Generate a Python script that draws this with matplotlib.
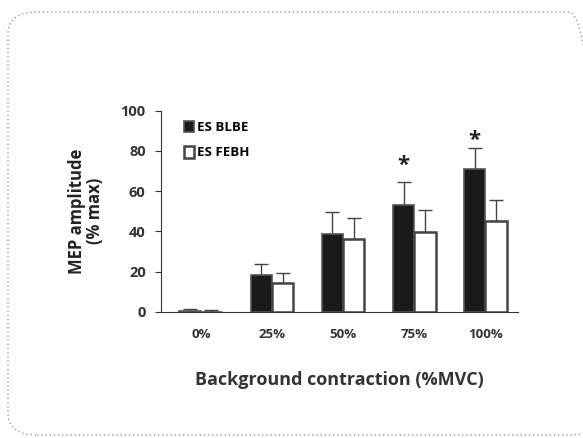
import numpy as np
import matplotlib
matplotlib.use('Agg')
import matplotlib.pyplot as plt
from matplotlib.patches import FancyBboxPatch

categories = ['0%', '25%', '50%', '75%', '100%']
blbe_mean = [0.5, 18.3, 38.5, 53.3, 71.2]
blbe_err = [1.0, 5.2, 11.2, 11.2, 10.0]
febh_mean = [0.0, 14.5, 36.3, 39.7, 45.3]
febh_err = [0.6, 4.8, 10.2, 11.1, 10.5]
star_groups = [3, 4]
star_y = [73, 85]

plt.rcParams['font.family'] = ['Open Sans', 'DejaVu Sans']
plt.rcParams['font.weight'] = 'bold'

fig = plt.figure(figsize=(5.83, 4.38), dpi=100)
fig.patch.set_facecolor('white')

# dotted rounded frame around the figure
frame = FancyBboxPatch((8 / 583, 3 / 438), 590 / 583, 423 / 438,
                       boxstyle='round,pad=0,rounding_size=0.05',
                       transform=fig.transFigure, fill=False,
                       edgecolor='#999999', linestyle=(0, (1, 2)), linewidth=1)
fig.patches.append(frame)

ax = fig.add_axes([161 / 583, 1 - 311.7 / 438, 357 / 583, 201 / 438])
x = np.arange(len(categories))
w = 0.3

ax.bar(x - w / 2, blbe_mean, w, color='#1a1a1a', edgecolor='#555555',
       linewidth=1.2, label='ES BLBE', zorder=2)
ax.bar(x + w / 2, febh_mean, w, color='white', edgecolor='#444444',
       linewidth=1.8, label='ES FEBH', zorder=2)
ax.errorbar(x - w / 2, blbe_mean, yerr=[np.zeros(5), blbe_err], fmt='none',
            ecolor='#444444', elinewidth=1, capsize=5, capthick=1, zorder=1)
ax.errorbar(x + w / 2, febh_mean, yerr=[np.zeros(5), febh_err], fmt='none',
            ecolor='#444444', elinewidth=1, capsize=5, capthick=1, zorder=1)

for g, sy in zip(star_groups, star_y):
    ax.text(g - w / 2, sy, '*', ha='center', va='center', fontsize=16,
            fontweight='bold', color='#222222')

ax.set_xlim(-0.56, 4.46)
ax.set_ylim(0, 100)
ax.set_yticks([0, 20, 40, 60, 80, 100])
ax.set_xticks(x)
ax.set_xticklabels(categories)
ax.tick_params(axis='x', length=0, pad=12, labelsize=9.5, colors='#333333')
ax.tick_params(axis='y', length=4, direction='out', pad=7, labelsize=10.5,
               colors='#333333')
ax.spines['top'].set_visible(False)
ax.spines['right'].set_visible(False)
ax.spines['left'].set_color('#333333')
ax.spines['bottom'].set_color('#333333')

ax.set_xlabel('Background contraction (%MVC)', fontsize=13, fontweight='bold',
              labelpad=21, color='#333333')
ax.set_ylabel('MEP amplitude\n(% max)', fontsize=12, fontweight='bold',
              labelpad=12, color='#222222', linespacing=1.0)

leg = ax.legend(loc='upper left', bbox_to_anchor=(0.03, 1.01), frameon=False,
                fontsize=9.5, handlelength=0.8, handleheight=1.0,
                handletextpad=0.2, labelspacing=0.9)

fig.savefig('out.png', dpi=100)
